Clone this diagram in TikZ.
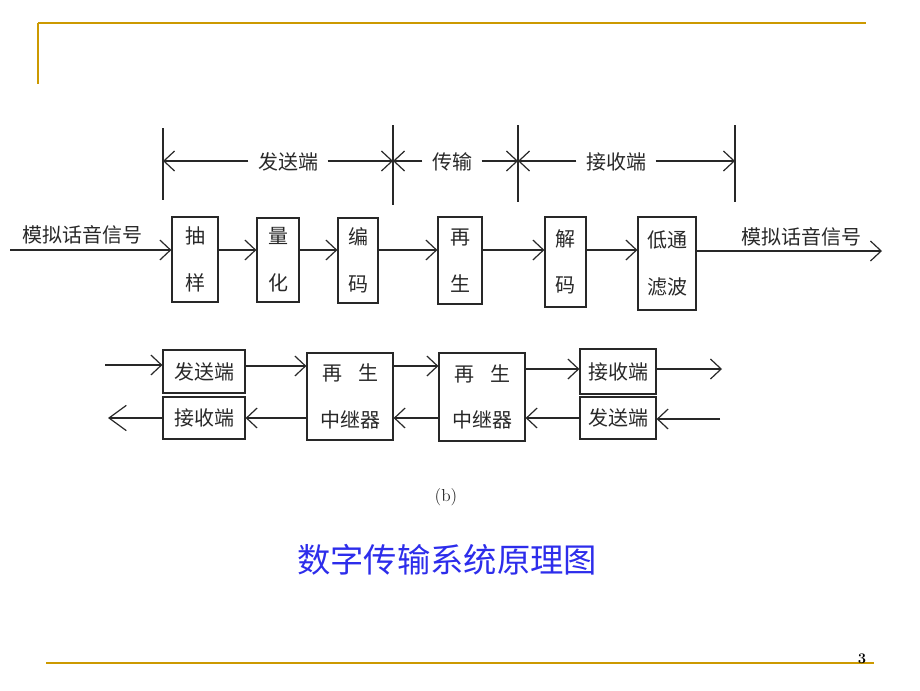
\documentclass[tikz,border=0pt]{standalone}
\usepackage{fontspec}
\newfontfamily\cjk{Noto Sans CJK SC}
\usetikzlibrary{arrows.meta}
\definecolor{gold}{RGB}{204,153,0}
\definecolor{ink}{RGB}{40,40,40}
\definecolor{titleblue}{RGB}{45,45,235}
\begin{document}
\begin{tikzpicture}[x=0.75pt,y=-0.75pt,
  box/.style={draw=ink, line width=0.9pt, inner sep=0pt, align=center, text=ink,
              font=\cjk\fontsize{15}{18}\selectfont},
  tall/.style={box, font=\cjk\fontsize{15}{35}\selectfont},
  lbl/.style={inner sep=0pt, text=ink, font=\cjk\fontsize{15}{18}\selectfont},
  dimlbl/.style={inner sep=0pt, inner xsep=7pt, text=ink, font=\cjk\fontsize{15}{18}\selectfont},
  line/.style={draw=ink, line width=0.9pt},
  arr/.style={line, -{Straight Barb[length=8pt,width=15pt,line width=0.9pt]}},
  bigarr/.style={line, -{Straight Barb[length=13pt,width=19pt,line width=0.9pt]}}]
\useasboundingbox (0,0) rectangle (920,690);

% golden frame
\coordinate (g1) at (38,23);
\coordinate (g2) at (866,23);
\coordinate (g3) at (38,84);
\coordinate (g4) at (46,663);
\coordinate (g5) at (874,663);
\draw[gold, line width=1.8pt] (g1) -- (g2);
\draw[gold, line width=0.9pt] (g1) -- (g3);
\draw[gold, line width=1.6pt] (g4) -- (g5);
\node[inner sep=0pt, font=\bfseries\fontsize{11}{12}\selectfont] (pg) at (862,659) {3};

% dimension ticks
\coordinate (t1a) at (163,128); \coordinate (t1b) at (163,200);
\coordinate (t2a) at (393,125); \coordinate (t2b) at (393,205);
\coordinate (t3a) at (518,125); \coordinate (t3b) at (518,202);
\coordinate (t4a) at (735,125); \coordinate (t4b) at (735,202);
\draw[line] (t1a) -- (t1b);
\draw[line] (t2a) -- (t2b);
\draw[line] (t3a) -- (t3b);
\draw[line] (t4a) -- (t4b);
\coordinate (d1) at (163,161);
\coordinate (d2) at (393,161);
\coordinate (d3) at (518,161);
\coordinate (d4) at (735,161);
\node[dimlbl] (lsend) at (288,162) {发送端};
\node[dimlbl] (ltx) at (452,162) {传输};
\node[dimlbl] (lrx) at (616,162) {接收端};
\draw[arr] (lsend.west |- d1) -- (d1);
\draw[arr] (lsend.east |- d1) -- (d2);
\draw[arr] (ltx.west |- d1) -- (d2);
\draw[arr] (ltx.east |- d1) -- (d3);
\draw[arr] (lrx.west |- d1) -- (d3);
\draw[arr] (lrx.east |- d1) -- (d4);

% main chain
\node[tall, minimum width=46*0.75pt, minimum height=85*0.75pt] (samp) at (195,259.5) {抽\\样};
\node[tall, minimum width=42*0.75pt, minimum height=84*0.75pt] (quant) at (278,260) {量\\化};
\node[tall, minimum width=40*0.75pt, minimum height=85*0.75pt] (enc) at (358,260.5) {编\\码};
\node[tall, minimum width=44*0.75pt, minimum height=87*0.75pt] (regen) at (460,260.5) {再\\生};
\node[tall, minimum width=41*0.75pt, minimum height=90*0.75pt] (dec) at (565.5,262) {解\\码};
\node[tall, minimum width=58*0.75pt, minimum height=93*0.75pt] (lpf) at (667,263.5) {低通\\滤波};

\coordinate (in) at (10,250);
\coordinate (out) at (882,251);
\node[lbl] (inl) at (82,235) {模拟话音信号};
\node[lbl] (outl) at (801,237) {模拟话音信号};
\draw[arr] (in) -- (samp.west |- in);
\draw[arr] (samp.east |- in) -- (quant.west |- in);
\draw[arr] (quant.east |- in) -- (enc.west |- in);
\draw[arr] (enc.east |- in) -- (regen.west |- in);
\draw[arr] (regen.east |- in) -- (dec.west |- in);
\draw[arr] (dec.east |- in) -- (lpf.west |- in);
\draw[arr] (lpf.east |- out) -- (out);

% repeater chain
\node[box, minimum width=82*0.75pt, minimum height=43*0.75pt] (sendL) at (204,371.5) {发送端};
\node[box, minimum width=82*0.75pt, minimum height=42*0.75pt] (recvL) at (204,418) {接收端};
\node[tall, minimum width=86*0.75pt, minimum height=87*0.75pt] (rep1) at (350,396.5) {再\hspace{12pt}生\\中继器};
\node[tall, minimum width=86*0.75pt, minimum height=88*0.75pt] (rep2) at (482,397) {再\hspace{12pt}生\\中继器};
\node[box, minimum width=76*0.75pt, minimum height=45*0.75pt] (recvR) at (618,371.5) {接收端};
\node[box, minimum width=76*0.75pt, minimum height=42*0.75pt] (sendR) at (618,418) {发送端};

\coordinate (u) at (0,366);
\coordinate (l) at (0,418);
\coordinate (inL) at (105,365);
\coordinate (outL) at (108,418);
\coordinate (outR) at (722,369);
\coordinate (inR) at (720,419);
\draw[arr] (inL) -- (sendL.west |- inL);
\draw[arr] (sendL.east |- u) -- (rep1.west |- u);
\draw[arr] (rep1.east |- u) -- (rep2.west |- u);
\draw[arr] (rep2.east |- outR) -- (recvR.west |- outR);
\draw[arr] (recvR.east |- outR) -- (outR);
\draw[arr] (inR) -- (sendR.east |- inR);
\draw[arr] (sendR.west |- l) -- (rep2.east |- l);
\draw[arr] (rep2.west |- l) -- (rep1.east |- l);
\draw[arr] (rep1.west |- l) -- (recvL.east |- l);
\draw[bigarr] (recvL.west |- l) -- (outL);

% captions
\node[inner sep=0pt, text=ink, font=\fontsize{13}{15}\selectfont] (cap) at (446,497) {(b)};
\node[inner sep=0pt, text=titleblue, font=\cjk\fontsize{25}{30}\selectfont] (title) at (447,560) {数字传输系统原理图};
\end{tikzpicture}
\end{document}
